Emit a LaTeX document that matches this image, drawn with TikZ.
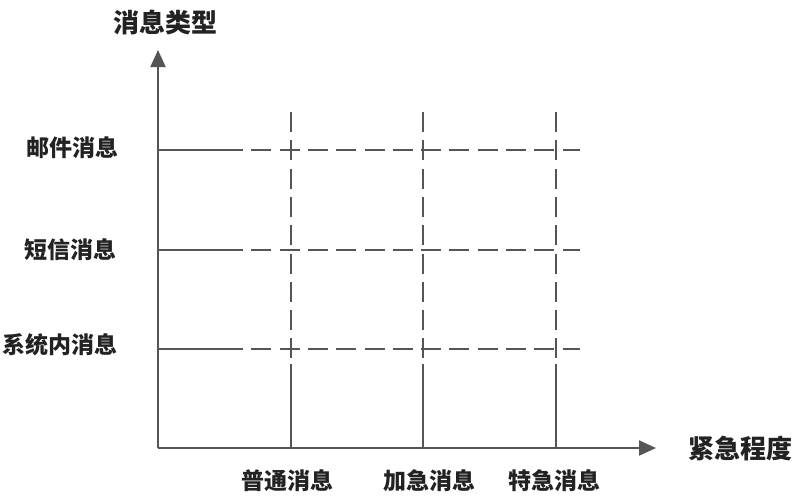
\documentclass[tikz,border=0pt]{standalone}
\usepackage{fontspec}
\setmainfont{Noto Sans CJK SC}
\usetikzlibrary{arrows.meta}
\definecolor{linegray}{HTML}{555555}
\definecolor{txt}{HTML}{222222}
\begin{document}
\begin{tikzpicture}[x=1pt,y=-1pt,
  axis/.style={draw=linegray, line width=2pt},
  gridline/.style={draw=linegray, line width=1.9pt},
  dashgrid/.style={gridline, dash pattern=on 20pt off 8.3pt},
  lbl/.style={text=txt, inner sep=0pt, font=\bfseries\fontsize{23}{23}\selectfont},
  axlbl/.style={text=txt, inner sep=0pt, font=\bfseries\fontsize{26}{26}\selectfont},
  tip/.style={-{Triangle[length=17pt,width=15pt]}}]
\useasboundingbox (0,0) rectangle (803,499);
% axes
\coordinate (O) at (158,448);
\coordinate (ytop) at (158,50);
\coordinate (xend) at (656,448);
\draw[axis,tip] (O) -- (ytop);
\draw[axis,tip] (O) -- (xend);
% axis labels
\node[axlbl] (ylab) at (165,22) {消息类型};
\node[axlbl] (xlab) at (740,448) {紧急程度};
% row labels
\node[lbl] (r1) at (72,148) {邮件消息};
\node[lbl] (r2) at (70,250) {短信消息};
\node[lbl] (r3) at (60,345) {系统内消息};
% column labels
\node[lbl] (c1) at (287,481) {普通消息};
\node[lbl] (c2) at (429,481) {加急消息};
\node[lbl] (c3) at (554,481) {特急消息};
% horizontal grid lines
\foreach \yy/\nm in {150/h1,250/h2,349/h3}{
  \coordinate (\nm a) at (158,\yy);
  \coordinate (\nm b) at (223,\yy);
  \coordinate (\nm c) at (580,\yy);
  \draw[gridline] (\nm a) -- (\nm b);
  \draw[dashgrid] (\nm b) -- (\nm c);
}
% vertical grid lines
\foreach \xx/\nm in {291/v1,423/v2,556/v3}{
  \coordinate (\nm a) at (\xx,112);
  \coordinate (\nm b) at (\xx,364);
  \coordinate (\nm c) at (\xx,448);
  \draw[dashgrid] (\nm a) -- (\nm b);
  \draw[gridline] (\nm b) -- (\nm c);
}
\end{tikzpicture}
\end{document}
